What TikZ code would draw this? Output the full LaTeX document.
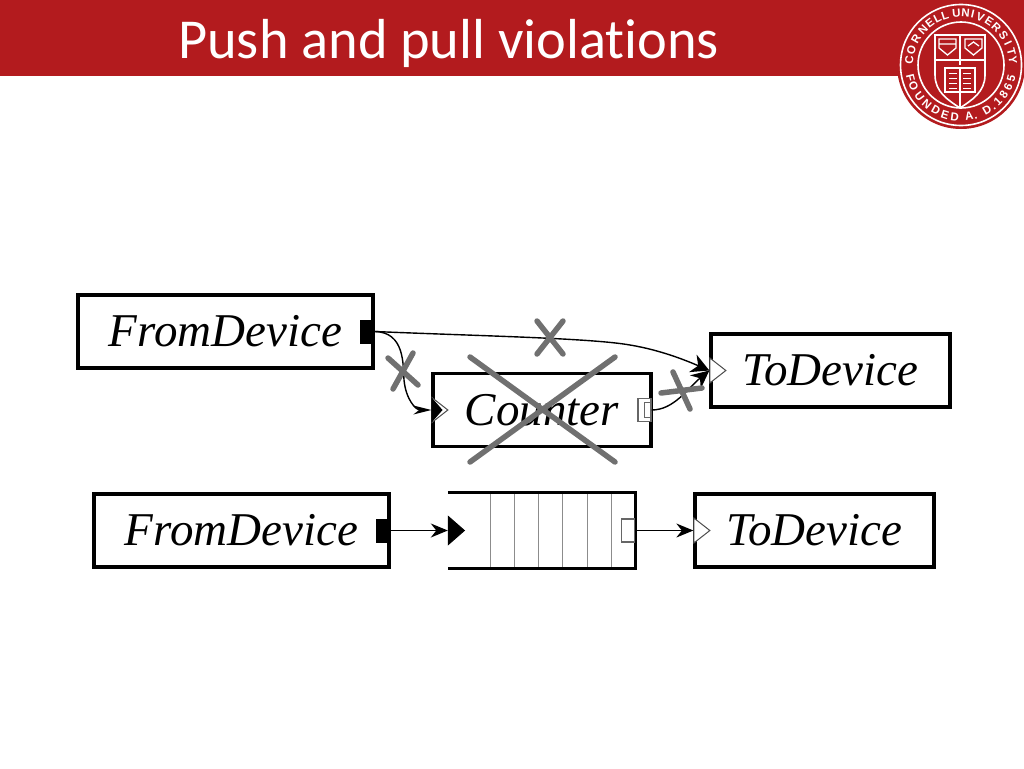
\documentclass[tikz,border=0pt]{standalone}
\usepackage{fontspec}
\usetikzlibrary{arrows.meta, positioning, shapes.geometric}
\newfontfamily\titlefont[Ligatures=NoCommon]{Carlito}
\newfontfamily\elementfont{Liberation Serif}
\newfontfamily\sealfont{Liberation Sans}
\definecolor{cornellred}{RGB}{179,27,30}
\definecolor{crossgray}{RGB}{112,112,112}
\tikzstyle{elementbox} = [draw=black, line width=3.3pt, rectangle, inner sep=0pt, minimum height=73pt, text=black, font=\elementfont\itshape\fontsize{47}{52}\selectfont]
\tikzstyle{pushout} = [fill=black, rectangle, inner sep=0pt, minimum width=14pt, minimum height=24pt]
\tikzstyle{pullout} = [draw=black!60, fill=white, line width=1.2pt, rectangle, inner sep=0pt, minimum width=13pt, minimum height=23pt]
\tikzstyle{pullin} = [draw=black!70, fill=white, line width=1pt, isosceles triangle, isosceles triangle stretches, inner sep=0pt, minimum width=25pt, minimum height=16pt, anchor=lower side]
\tikzstyle{pushin} = [pullin, fill=black, draw=black]
\tikzstyle{wire} = [black, line width=1.4pt, -{Stealth[length=17pt,width=14pt]}]
\tikzstyle{crossmark} = [crossgray, line width=5.5pt, line cap=round]
\tikzstyle{sealletter} = [white, inner sep=0pt, font=\sealfont\bfseries\fontsize{11.5}{12}\selectfont]
\begin{document}
\begin{tikzpicture}[x=1pt, y=-1pt]
	\useasboundingbox (0,0) rectangle (1024,768);
	\fill[cornellred] (0,0) rectangle (1024,76);
	\node[anchor=west, inner sep=0pt, text=white, font=\titlefont\fontsize{56.4}{60}\selectfont] (title) at (178,43) {Push and pull violations};
	% seal
	\fill[cornellred] (961,65) circle (64);
	\draw[white, line width=1.6pt] (961,65) circle (60.5);
	\draw[white, line width=1.6pt] (961,65) circle (43);
	\foreach \ch/\ang in {C/175,O/163,R/150,N/137,E/127,L/117,L/108,U/95,N/85,I/77,V/68,E/57,R/47,S/35,I/25,T/15,Y/5}
		\node[sealletter, rotate=\ang-90] at ({961+52*cos(\ang)},{65-52*sin(\ang)}) {\vphantom{A}\ch};
	\foreach \ch/\ang in {F/194,O/204,U/217,N/229,D/241,E/252,D/263,A/279,./286,D/300,./308,1/315,8/325,6/335,5/345}
		\node[sealletter, rotate=\ang+90] at ({961+52*cos(\ang)},{65-52*sin(\ang)}) {\vphantom{A}\ch};
	\draw[white, line width=1.6pt] (935,35) -- (985,35) -- (985,75) .. controls (985,92) and (972,100) .. (960,108) .. controls (948,100) and (935,92) .. (935,75) -- cycle;
	\draw[white, line width=1.4pt] (935,60) -- (985,60) (960,35) -- (960,65) (960,92) -- (960,108);
	\draw[white, line width=1.3pt] (939,39) -- (956,39) -- (956,48) -- (947.5,55) -- (939,48) -- cycle (939,44) -- (956,44);
	\draw[white, line width=1.3pt] (965,39) -- (982,39) -- (982,48) -- (973.5,55) -- (965,48) -- cycle (968,46) -- (973.5,42) -- (979,46);
	\draw[white, line width=1.5pt] (945,68) -- (975,68) -- (975,92) -- (945,92) -- cycle (960,68) -- (960,92);
	\foreach \yy in {73,78,83,88}
		\draw[white, line width=1pt] (949,\yy) -- (957,\yy) (963,\yy) -- (971,\yy);
	% upper row
	\node[elementbox, minimum width=295pt] (fromA) at (225.5,331.5) {FromDevice};
	\node[elementbox, minimum width=218pt] (counter) at (542,410) {Counter};
	\node[elementbox, minimum width=239pt] (toA) at (830.5,370.5) {ToDevice};
	\node[pushout, anchor=east] (fromAout) at (fromA.east) {};
	\node[pullin] (counterin) at (counter.west) {};
	\node[pushin, minimum width=23pt, minimum height=10pt] (countermark) at (counter.west) {};
	\node[pullout, anchor=east, xshift=-1pt] (counterout) at (counter.east) {};
	\node[draw=black!60, line width=1pt, inner sep=0pt, minimum width=7pt, minimum height=15pt, anchor=east] (counterinner) at (counterout.east) {};
	\node[pullin] (toAin) at (toA.west) {};
	\draw[wire, -{Stealth[length=18pt,width=19pt]}] (fromAout.east) .. controls (480,336) and (590,338) .. (630,345) .. controls (660,350) and (685,360) .. (toAin.lower side);
	\draw[wire, -{Stealth[length=18pt,width=9pt]}] (fromAout.east) .. controls (405,332) and (403,365) .. (404,380) .. controls (406,400) and (416,410) .. (counterin.lower side);
	\draw[wire, -{Stealth[length=18pt,width=17pt]}] (counterout.east) .. controls (674,410) and (688,388) .. (toAin.lower side);
	\draw[crossmark] (470,357) -- (615,462) (615,357) -- (470,462);
	\draw[crossmark] (537,321) -- (563,354) (563,321) -- (537,354);
	\draw[crossmark] (388,358) -- (418,385) (413,353) -- (393,389);
	\draw[crossmark] (661,393) -- (702,388) (673,372) -- (690,409);
	% lower row
	\node[elementbox, minimum width=295pt] (fromB) at (241.5,530.5) {FromDevice};
	\node[minimum width=187pt, minimum height=75pt, inner sep=0pt] (queue) at (541.5,530.5) {};
	\node[elementbox, minimum width=239pt] (toB) at (814.5,530.5) {ToDevice};
	\foreach \xx in {490,514,538,562,587,611}
		\draw[black!45, line width=1pt] (\xx,493) -- (\xx,568);
	\draw[black, line width=3.3pt, line cap=butt] (queue.north west) -- (queue.north east) -- (queue.south east) -- (queue.south west);
	\node[pushout, anchor=east] (fromBout) at (fromB.east) {};
	\node[pushin, minimum width=28pt] (queuein) at (queue.west) {};
	\node[pullout, anchor=east] (queueout) at (queue.east) {};
	\node[pullin] (toBin) at (toB.west) {};
	\draw[wire] (fromBout.east) -- (queuein.lower side);
	\draw[wire] (queueout.east) -- (toBin.lower side);
\end{tikzpicture}
\end{document}
